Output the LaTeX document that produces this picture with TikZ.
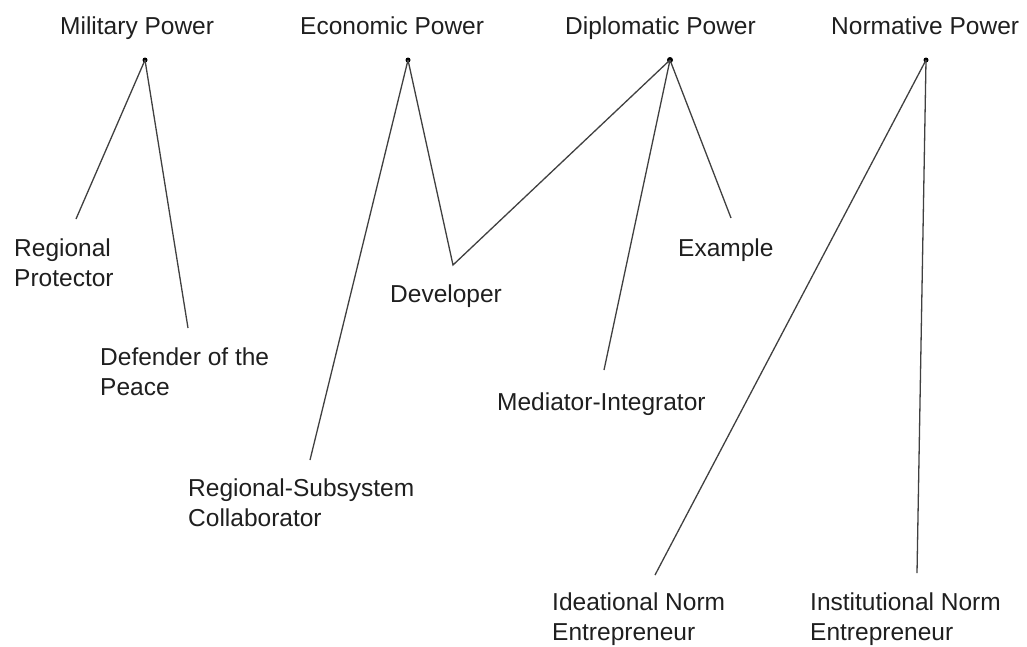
\documentclass[tikz,border=0pt]{standalone}
\usepackage{fontspec}
\setmainfont{Liberation Sans}
\begin{document}
\begin{tikzpicture}[x=1pt,y=-1pt,
  lbl/.style={anchor=base west,inner sep=0pt,align=left,text=black!88,
    font=\fontsize{24.5}{30}\selectfont},
  conn/.style={draw=black!75,line width=1.3pt},
  apex/.style={circle,fill=black,inner sep=0pt,minimum size=5pt}]
\useasboundingbox (0,0) rectangle (1027,646);
% titles
\node[lbl] (tmil) at (60,34) {Military Power};
\node[lbl] (teco) at (300,34) {Economic Power};
\node[lbl] (tdip) at (565,34) {Diplomatic Power};
\node[lbl] (tnor) at (831,34) {Normative Power};
% apexes
\node[apex] (mil) at (145,60) {};
\node[apex] (eco) at (408,60) {};
\node[apex,minimum size=6pt] (dip) at (670,60) {};
\node[apex] (nor) at (926,60) {};
% labels (base = last line)
\node[lbl] (rp) at (14,286) {Regional\\Protector};
\node[lbl] (dp) at (100,395) {Defender of the\\Peace};
\node[lbl] (dev) at (390,302) {Developer};
\node[lbl] (ex) at (678,256) {Example};
\node[lbl] (mi) at (497,410) {Mediator-Integrator};
\node[lbl] (rsc) at (188,526) {Regional-Subsystem\\Collaborator};
\node[lbl] (ine) at (552,640) {Ideational Norm\\Entrepreneur};
\node[lbl] (isne) at (810,640) {Institutional Norm\\Entrepreneur};
% free ends
\coordinate (erp) at (76,219);
\coordinate (edp) at (188,328);
\coordinate (ersc) at (310,460);
\coordinate (edev) at (453,265);
\coordinate (emi) at (604,370);
\coordinate (eex) at (731,218);
\coordinate (eine) at (655,575);
\coordinate (eisne) at (917,573);
% connectors
\draw[conn] (mil.center) -- (erp);
\draw[conn] (mil.center) -- (edp);
\draw[conn] (eco.center) -- (ersc);
\draw[conn] (eco.center) -- (edev) -- (dip.center);
\draw[conn] (dip.center) -- (emi);
\draw[conn] (dip.center) -- (eex);
\draw[conn] (nor.center) -- (eine);
\draw[conn] (nor.center) -- (eisne);
\end{tikzpicture}
\end{document}
